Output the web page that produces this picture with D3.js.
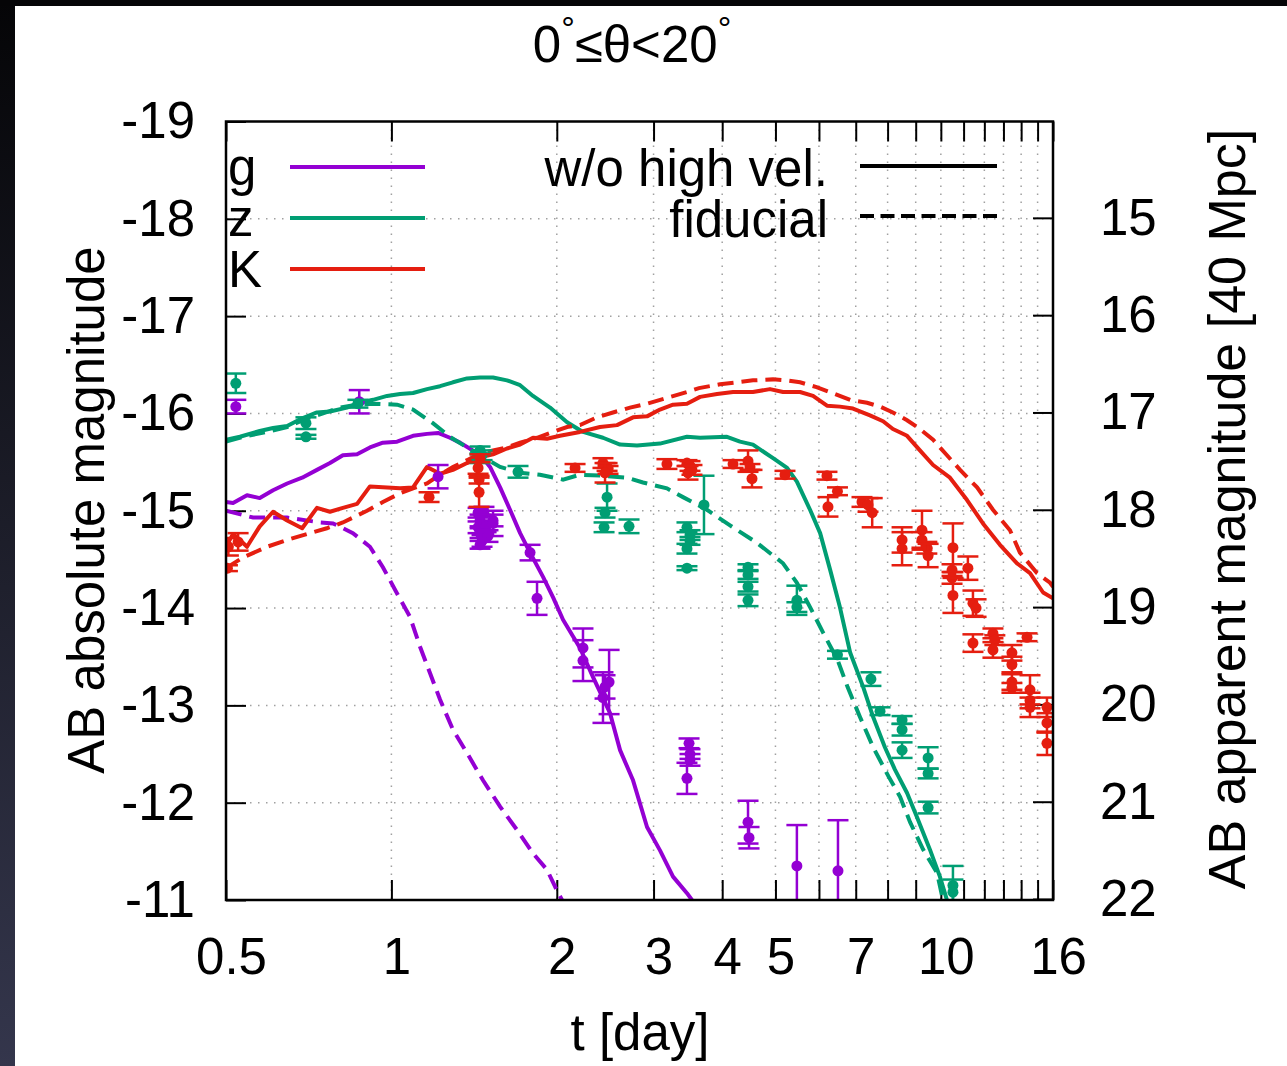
<!DOCTYPE html>
<html>
<head>
<meta charset="utf-8">
<script src="https://cdn.jsdelivr.net/npm/d3@7"></script>
<style>
body { margin: 0; background: #fff; }
svg text { font-family: "Liberation Sans", Arial, Helvetica, sans-serif; }
</style>
</head>
<body>
<svg id="chart" width="1287" height="1066"></svg>
<script>
// model light curves, [t (day), AB absolute magnitude]
var gSolid = [[0.5,-15.09],[0.515,-15.08],[0.546,-15.16],[0.576,-15.13],[0.609,-15.21],[0.646,-15.28],[0.688,-15.34],
  [0.732,-15.42],[0.773,-15.49],[0.816,-15.57],[0.866,-15.58],[0.914,-15.65],[0.965,-15.70],[1.024,-15.71],[1.095,-15.77],
  [1.161,-15.79],[1.216,-15.80],[1.278,-15.75],[1.333,-15.70],[1.407,-15.62],[1.468,-15.54],[1.512,-15.45],[1.577,-15.24],
  [1.644,-15.01],[1.715,-14.77],[1.788,-14.57],[1.888,-14.32],[1.969,-14.11],[2.053,-13.88],[2.204,-13.59],[2.328,-13.29],
  [2.50,-12.92],[2.607,-12.54],[2.753,-12.23],[2.919,-11.75],[3.082,-11.51],[3.255,-11.24],[3.451,-11.07],[3.524,-11.0]];
var gDash = [[0.5,-15.00],[0.56,-14.93],[0.646,-14.93],[0.741,-14.88],[0.783,-14.87],[0.851,-14.77],[0.914,-14.63],
  [0.965,-14.42],[1.024,-14.15],[1.081,-13.91],[1.128,-13.60],[1.176,-13.33],[1.226,-13.06],[1.294,-12.75],[1.373,-12.51],
  [1.468,-12.23],[1.577,-11.96],[1.693,-11.72],[1.81,-11.48],[1.92,-11.31],[2.0,-11.10],[2.044,-11.0]];
var zSolid = [[0.5,-15.73],[0.53,-15.76],[0.576,-15.82],[0.609,-15.85],[0.646,-15.87],[0.688,-15.95],[0.732,-16.01],
  [0.773,-16.02],[0.83,-16.06],[0.877,-16.11],[0.926,-16.14],[0.982,-16.18],[1.037,-16.20],[1.095,-16.21],[1.161,-16.25],
  [1.226,-16.28],[1.294,-16.32],[1.373,-16.36],[1.45,-16.37],[1.531,-16.37],[1.623,-16.34],[1.715,-16.29],[1.81,-16.18],
  [1.944,-16.06],[2.088,-15.91],[2.232,-15.81],[2.427,-15.75],[2.607,-15.68],[2.799,-15.67],[3.082,-15.69],[3.451,-15.76],
  [3.646,-15.75],[4.081,-15.76],[4.31,-15.71],[4.55,-15.68],[4.95,-15.54],[5.25,-15.44],[5.47,-15.30],[5.78,-15.01],
  [6.03,-14.77],[6.29,-14.39],[6.55,-14.01],[6.84,-13.54],[7.22,-13.19],[7.53,-12.88],[7.91,-12.57],[8.25,-12.34],
  [8.68,-12.10],[9.05,-11.85],[9.55,-11.52],[9.96,-11.24],[10.26,-11.0]];
var zDash = [[0.5,-15.71],[0.537,-15.76],[0.594,-15.81],[0.646,-15.86],[0.702,-15.95],[0.751,-16.00],[0.806,-16.06],
  [0.866,-16.09],[0.926,-16.10],[1.024,-16.09],[1.095,-16.04],[1.19,-15.90],[1.278,-15.76],[1.373,-15.65],[1.468,-15.55],
  [1.577,-15.45],[1.715,-15.39],[1.864,-15.37],[2.053,-15.32],[2.204,-15.37],[2.427,-15.36],[2.684,-15.34],[2.87,-15.29],
  [3.173,-15.23],[3.394,-15.14],[3.753,-15.01],[4.133,-14.85],[4.627,-14.67],[5.161,-14.46],[5.47,-14.26],[5.78,-14.01],
  [6.115,-13.74],[6.484,-13.47],[6.763,-13.19],[7.126,-12.88],[7.53,-12.57],[8.03,-12.27],[8.43,-12.06],[8.79,-11.80],
  [9.28,-11.52],[9.84,-11.28],[10.09,-11.0]];
var kSolid = [[0.502,-14.65],[0.515,-14.76],[0.53,-14.70],[0.546,-14.63],[0.576,-14.84],[0.609,-14.99],[0.646,-14.90],
  [0.688,-14.82],[0.732,-15.03],[0.773,-14.99],[0.816,-15.03],[0.866,-15.07],[0.914,-15.25],[0.982,-15.24],[1.037,-15.23],
  [1.095,-15.24],[1.161,-15.45],[1.226,-15.38],[1.294,-15.42],[1.373,-15.49],[1.45,-15.55],[1.531,-15.58],[1.623,-15.64],
  [1.715,-15.68],[1.81,-15.75],[1.92,-15.74],[2.027,-15.77],[2.204,-15.81],[2.397,-15.86],[2.574,-15.88],[2.753,-15.96],
  [2.919,-15.97],[3.082,-16.04],[3.255,-16.09],[3.451,-16.10],[3.646,-16.17],[3.915,-16.20],[4.186,-16.22],[4.55,-16.22],
  [4.887,-16.25],[5.161,-16.22],[5.543,-16.22],[5.853,-16.18],[6.205,-16.08],[6.55,-16.07],[6.92,-16.05],[7.43,-15.98],
  [7.85,-15.92],[8.18,-15.84],[8.68,-15.77],[9.16,-15.62],[9.68,-15.47],[10.39,-15.34],[11.16,-15.11],[11.93,-14.87],
  [12.81,-14.65],[13.76,-14.46],[14.53,-14.36],[15.35,-14.16],[16.0,-14.10]];
var kDash = [[0.5,-14.41],[0.537,-14.52],[0.594,-14.63],[0.646,-14.70],[0.711,-14.77],[0.763,-14.82],[0.816,-14.88],
  [0.903,-15.00],[0.965,-15.09],[1.037,-15.18],[1.095,-15.23],[1.161,-15.28],[1.226,-15.37],[1.294,-15.45],[1.373,-15.52],
  [1.45,-15.59],[1.531,-15.62],[1.623,-15.65],[1.715,-15.70],[1.841,-15.75],[1.944,-15.80],[2.088,-15.86],[2.204,-15.88],
  [2.367,-15.96],[2.531,-16.01],[2.718,-16.06],[2.919,-16.10],[3.174,-16.16],[3.451,-16.22],[3.629,-16.26],[3.964,-16.30],
  [4.256,-16.32],[4.551,-16.34],[4.95,-16.35],[5.25,-16.34],[5.543,-16.32],[5.94,-16.27],[6.35,-16.21],[6.84,-16.14],
  [7.34,-16.11],[7.75,-16.07],[8.18,-16.01],[8.68,-15.93],[9.16,-15.84],[9.68,-15.73],[10.26,-15.57],[10.84,-15.42],
  [11.64,-15.24],[12.44,-15.01],[13.36,-14.80],[13.93,-14.57],[14.96,-14.36],[15.8,-14.26],[16.0,-14.22]];

// observed points, [t (day), magnitude, error]
var gObs = [[0.521,-16.07,0.07],[0.874,-16.12,0.12],[1.216,-15.35,0.12],
  [1.438,-14.98,0.05],[1.474,-14.99,0.05],[1.531,-14.90,0.06],[1.45,-14.90,0.06],[1.438,-14.83,0.06],[1.487,-14.84,0.06],
  [1.45,-14.77,0.05],[1.499,-14.74,0.06],[1.462,-14.69,0.06],[1.45,-14.65,0.04],[1.531,-14.87,0.13],
  [1.788,-14.57,0.08],[1.841,-14.10,0.17],[2.232,-13.59,0.20],[2.232,-13.46,0.21],[2.49,-13.24,0.33],[2.448,-13.19,0.12],
  [2.427,-13.08,0.26],[3.481,-12.61,0.05],[3.495,-12.50,0.05],[3.495,-12.44,0.06],[3.451,-12.25,0.16],
  [4.457,-11.80,0.22],[4.476,-11.64,0.11],[5.47,-11.35,0.42],[6.498,-11.30,0.52]];
var zObs = [[0.521,-16.31,0.10],[0.699,-15.90,0.06],[0.699,-15.76,0.02],[0.869,-16.10,0.04],
  [1.45,-15.62,0.04],[1.45,-15.54,0.05],[1.462,-15.57,0.05],[1.70,-15.40,0.06],
  [2.469,-15.14,0.14],[2.448,-14.98,0.05],[2.438,-14.83,0.05],[2.707,-14.84,0.07],
  [3.451,-14.83,0.05],[3.495,-14.75,0.05],[3.495,-14.69,0.04],[3.451,-14.61,0.05],[3.451,-14.41,0.02],[3.706,-15.06,0.30],
  [4.457,-14.42,0.03],[4.457,-14.34,0.04],[4.457,-14.22,0.05],[4.457,-14.08,0.06],
  [5.47,-14.08,0.15],[5.47,-14.01,0.05],[6.484,-13.52,0.04],[7.46,-13.27,0.07],[7.75,-12.94,0.04],
  [8.50,-12.85,0.04],[8.50,-12.75,0.06],[8.50,-12.54,0.08],[9.48,-12.46,0.11],[9.48,-12.30,0.05],[9.48,-11.95,0.06],
  [10.52,-11.15,0.20],[10.52,-11.08,0.13]];
var kObs = [[0.505,-14.63,0.09],[0.503,-14.41,0.03],[0.526,-14.68,0.09],[1.171,-15.14,0.05],
  [1.45,-15.54,0.04],[1.438,-15.44,0.06],[1.444,-15.32,0.04],[1.444,-15.19,0.15],[2.159,-15.44,0.04],
  [2.427,-15.49,0.05],[2.469,-15.45,0.04],[2.479,-15.42,0.04],[2.448,-15.39,0.10],
  [3.173,-15.48,0.05],[3.451,-15.49,0.03],[3.495,-15.46,0.05],[3.524,-15.42,0.05],[3.466,-15.39,0.07],
  [4.186,-15.48,0.04],[4.457,-15.51,0.11],[4.494,-15.45,0.03],[4.532,-15.33,0.09],[5.204,-15.37,0.04],
  [6.205,-15.36,0.04],[6.484,-15.20,0.04],[6.231,-15.04,0.10],[7.186,-15.09,0.05],[7.37,-15.06,0.07],[7.50,-14.98,0.15],
  [8.50,-14.70,0.13],[8.50,-14.61,0.17],[9.24,-14.80,0.20],[9.24,-14.70,0.08],[9.43,-14.62,0.06],[9.48,-14.54,0.12],
  [10.52,-14.62,0.25],[10.48,-14.39,0.06],[10.48,-14.31,0.06],[10.52,-14.13,0.18],[11.20,-14.41,0.12],
  [11.44,-14.05,0.13],[11.59,-14.00,0.09],[11.44,-13.64,0.09],[12.44,-13.74,0.05],[12.54,-13.67,0.05],[12.44,-13.57,0.08],
  [13.47,-13.54,0.08],[13.47,-13.42,0.08],[13.47,-13.24,0.08],[13.47,-13.18,0.05],[14.35,-13.70,0.04],
  [14.53,-13.16,0.15],[14.53,-13.05,0.08],[14.53,-12.98,0.10],[15.60,-12.98,0.10],[15.60,-12.82,0.10],[15.60,-12.61,0.12]];

var xTicks = [0.5,1,2,3,4,5,6,7,8,9,10,11,12,13,14,15,16];
var xLabels = [0.5,1,2,3,4,5,7,10,16];
var xGrid = [1,2,3,4,5,6,7,8,9,10,11,12,13,14,15];
var yTicks = [-19,-18,-17,-16,-15,-14,-13,-12,-11];
var y2Ticks = [15,16,17,18,19,20,21,22];
var distMod = 33.01; // 40 Mpc

var bands = [
  { name: "g", color: "#9400d3", solid: gSolid, dash: gDash, obs: gObs },
  { name: "z", color: "#009e73", solid: zSolid, dash: zDash, obs: zObs },
  { name: "K", color: "#e51e10", solid: kSolid, dash: kDash, obs: kObs }
];

var L = 226, R = 1053, T = 121.5, B = 900;
var svg = d3.select("#chart");
var font = "'Liberation Sans', Arial, Helvetica, sans-serif";
var fs = 51;

// dark slide frame
var grad = svg.append("defs").append("linearGradient").attr("id", "edge")
  .attr("x1", 0).attr("y1", 0).attr("x2", 0).attr("y2", 1);
grad.append("stop").attr("offset", "0%").attr("stop-color", "#050507");
grad.append("stop").attr("offset", "100%").attr("stop-color", "#34364c");
svg.append("rect").attr("x", 0).attr("y", 0).attr("width", 15).attr("height", 1066).attr("fill", "url(#edge)");
svg.append("rect").attr("x", 0).attr("y", 0).attr("width", 1287).attr("height", 6).attr("fill", "#050507");

svg.select("defs").append("clipPath").attr("id", "plotclip")
  .append("rect").attr("x", L).attr("y", T).attr("width", R - L).attr("height", B - T);

var x = d3.scaleLog().domain([0.5, 16]).range([L, R]);
var y = d3.scaleLinear().domain([-19, -11]).range([T, B]);
var y2 = d3.scaleLinear().domain([-19 + distMod, -11 + distMod]).range([T, B]);

// grid
var grid = svg.append("g").attr("stroke", "#a0a0a0").attr("stroke-width", 1.5).attr("stroke-dasharray", "1.5,6.5");
grid.selectAll(".gx").data(xGrid).enter().append("line")
  .attr("x1", d => x(d)).attr("x2", d => x(d)).attr("y1", T).attr("y2", B);
grid.selectAll(".gy").data(yTicks.slice(1, -1)).enter().append("line")
  .attr("x1", L).attr("x2", R).attr("y1", d => y(d)).attr("y2", d => y(d));

// axes
function styleAxis(g) {
  g.select(".domain").remove();
  g.attr("font-size", fs).attr("font-family", font);
  g.selectAll(".tick line").attr("stroke", "#000").attr("stroke-width", 2);
  g.selectAll(".tick text").attr("fill", "#000");
}
svg.append("g").attr("transform", "translate(0," + B + ")")
  .call(d3.axisBottom(x).tickValues(xTicks).tickSize(-20).tickSizeOuter(0).tickPadding(38)
    .tickFormat(d => xLabels.indexOf(d) >= 0 ? String(d) : ""))
  .call(styleAxis)
  .selectAll(".tick text").attr("dx", 5);
svg.append("g").attr("transform", "translate(0," + T + ")")
  .call(d3.axisTop(x).tickValues(xTicks).tickSize(-20).tickSizeOuter(0).tickFormat(""))
  .call(styleAxis);
svg.append("g").attr("transform", "translate(" + L + ",0)")
  .call(d3.axisLeft(y).tickValues(yTicks).tickSize(-20).tickSizeOuter(0).tickPadding(31).tickFormat(d => String(d)))
  .call(styleAxis);
svg.append("g").attr("transform", "translate(" + R + ",0)")
  .call(d3.axisRight(y2).tickValues(y2Ticks).tickSize(-20).tickSizeOuter(0).tickPadding(47).tickFormat(d => String(d)))
  .call(styleAxis);

// curves
var line = d3.line().x(d => x(d[0])).y(d => y(d[1]));
var plot = svg.append("g").attr("clip-path", "url(#plotclip)");
bands.forEach(function (b) {
  plot.append("path").attr("d", line(b.solid)).attr("fill", "none")
    .attr("stroke", b.color).attr("stroke-width", 4).attr("stroke-linejoin", "round");
  plot.append("path").attr("d", line(b.dash)).attr("fill", "none")
    .attr("stroke", b.color).attr("stroke-width", 4).attr("stroke-dasharray", "16,8");
});

// observed points with error bars
bands.forEach(function (b) {
  var pts = plot.append("g").attr("stroke", b.color).attr("fill", b.color).attr("stroke-width", 2.5);
  var p = pts.selectAll("g.pt").data(b.obs).enter().append("g").attr("class", "pt");
  p.append("line").attr("x1", d => x(d[0])).attr("x2", d => x(d[0]))
    .attr("y1", d => y(d[1] - d[2])).attr("y2", d => y(d[1] + d[2]));
  p.append("line").attr("x1", d => x(d[0]) - 10.5).attr("x2", d => x(d[0]) + 10.5)
    .attr("y1", d => y(d[1] - d[2])).attr("y2", d => y(d[1] - d[2]));
  p.append("line").attr("x1", d => x(d[0]) - 10.5).attr("x2", d => x(d[0]) + 10.5)
    .attr("y1", d => y(d[1] + d[2])).attr("y2", d => y(d[1] + d[2]));
  p.append("circle").attr("cx", d => x(d[0])).attr("cy", d => y(d[1])).attr("r", 5.5).attr("stroke", "none");
});

// frame
svg.append("rect").attr("x", L).attr("y", T).attr("width", R - L).attr("height", B - T)
  .attr("fill", "none").attr("stroke", "#000").attr("stroke-width", 2.5);

// key
var rows = [167, 218, 269];
var key = svg.append("g").attr("font-size", fs).attr("font-family", font);
bands.forEach(function (b, i) {
  key.append("text").attr("x", 228).attr("y", rows[i] + 18).text(b.name);
  key.append("line").attr("x1", 290).attr("x2", 425).attr("y1", rows[i]).attr("y2", rows[i])
    .attr("stroke", b.color).attr("stroke-width", 4);
});
key.append("text").attr("x", 828).attr("y", rows[0] + 19).attr("text-anchor", "end").text("w/o high vel.");
key.append("line").attr("x1", 860).attr("x2", 997).attr("y1", rows[0] - 1).attr("y2", rows[0] - 1)
  .attr("stroke", "#000").attr("stroke-width", 4);
key.append("text").attr("x", 828).attr("y", rows[1] + 19).attr("text-anchor", "end").text("fiducial");
key.append("line").attr("x1", 860).attr("x2", 997).attr("y1", rows[1] - 2).attr("y2", rows[1] - 2)
  .attr("stroke", "#000").attr("stroke-width", 4).attr("stroke-dasharray", "14,6.5");

// titles
var title = svg.append("text").attr("x", 632).attr("y", 62).attr("text-anchor", "middle")
  .attr("font-size", fs).attr("font-family", font);
title.append("tspan").text("0");
title.append("tspan").attr("font-size", 34).attr("dy", -22).text("°");
title.append("tspan").attr("dy", 22).text("≤θ<20");
title.append("tspan").attr("font-size", 34).attr("dy", -22).text("°");

svg.append("text").attr("x", 640).attr("y", 1050).attr("text-anchor", "middle")
  .attr("font-size", fs).attr("font-family", font).text("t [day]");
svg.append("text").attr("transform", "translate(104,510) rotate(-90)").attr("text-anchor", "middle")
  .attr("font-size", fs).attr("font-family", font).text("AB absolute magnitude");
svg.append("text").attr("transform", "translate(1245,509) rotate(-90)").attr("text-anchor", "middle")
  .attr("font-size", 52).attr("font-family", font).text("AB apparent magnitude [40 Mpc]");
</script>
</body>
</html>
